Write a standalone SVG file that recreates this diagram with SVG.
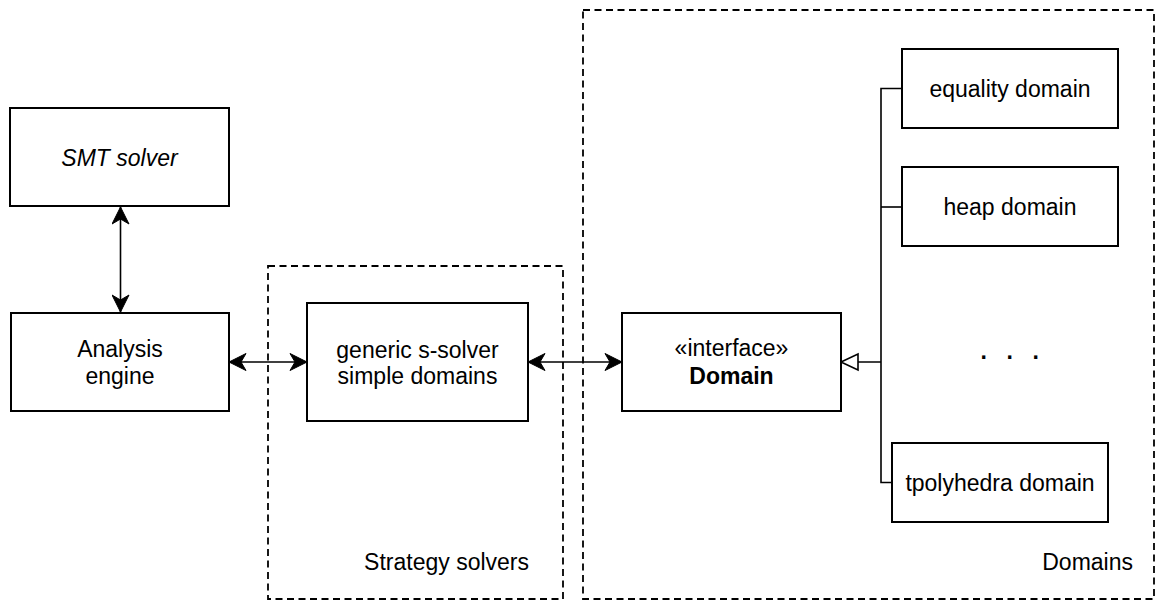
<svg xmlns="http://www.w3.org/2000/svg" width="1156" height="601" viewBox="0 0 1156 601">
  <style>
    .box { fill: #ffffff; stroke: #000000; stroke-width: 2; }
    .group { fill: none; stroke: #000000; stroke-width: 1.8; stroke-dasharray: 7 4.5; }
    .label { font-family: "Liberation Sans", Arial, Helvetica, sans-serif; font-size: 23px; fill: #000000; }
    .mid { text-anchor: middle; }
    .end { text-anchor: end; }
    .edge { fill: none; stroke: #000000; stroke-width: 1.6; }
  </style>
  <defs>
    <!-- filled, notched arrowhead; tip sits on the path end -->
    <marker id="arrow" viewBox="-18 -9 19 18" refX="0" refY="0" markerWidth="19" markerHeight="18" markerUnits="userSpaceOnUse" orient="auto-start-reverse">
      <path d="M0,0 L-17,-8.5 L-12,0 L-17,8.5 Z" fill="#000000" stroke="#000000" stroke-width="1"/>
    </marker>
    <!-- hollow triangle for generalisation -->
    <marker id="inherit" viewBox="-19 -10 21 20" refX="0" refY="0" markerWidth="21" markerHeight="20" markerUnits="userSpaceOnUse" orient="auto">
      <path d="M0,0 L-17,-8 L-17,8 Z" fill="#ffffff" stroke="#000000" stroke-width="1.6"/>
    </marker>
  </defs>

  <!-- container groups -->
  <g id="strategy-solvers">
    <rect class="group" x="268" y="266" width="295" height="333"/>
    <text class="label end" x="529" y="570">Strategy solvers</text>
  </g>
  <g id="domains">
    <rect class="group" x="583" y="10" width="571" height="589"/>
    <text class="label end" x="1133" y="570">Domains</text>
  </g>

  <!-- connectors -->
  <g id="connectors">
    <path class="edge" d="M120.5,207 L120.5,312" marker-start="url(#arrow)" marker-end="url(#arrow)"/>
    <path class="edge" d="M229,362 L307,362" marker-start="url(#arrow)" marker-end="url(#arrow)"/>
    <path class="edge" d="M528,362 L622,362" marker-start="url(#arrow)" marker-end="url(#arrow)"/>
    <path class="edge" d="M902,88.5 L881,88.5 L881,482.5 L892,482.5"/>
    <path class="edge" d="M881,207 L902,207"/>
    <path class="edge" d="M881,362 L841,362" marker-end="url(#inherit)"/>
  </g>

  <!-- nodes -->
  <g id="smt-solver">
    <rect class="box" x="10" y="108" width="219" height="98"/>
    <text class="label mid" x="119.5" y="165.5" font-style="italic">SMT solver</text>
  </g>
  <g id="analysis-engine">
    <rect class="box" x="11" y="313" width="218" height="98"/>
    <text class="label mid" x="120" y="357">Analysis</text>
    <text class="label mid" x="120" y="383.6">engine</text>
  </g>
  <g id="generic-s-solver">
    <rect class="box" x="307" y="303" width="221" height="118"/>
    <text class="label mid" x="417.5" y="357.5">generic s-solver</text>
    <text class="label mid" x="417.5" y="384">simple domains</text>
  </g>
  <g id="domain-interface">
    <rect class="box" x="622" y="313" width="219" height="98"/>
    <text class="label mid" x="731.5" y="356">«interface»</text>
    <text class="label mid" x="731.5" y="384" font-weight="bold">Domain</text>
  </g>
  <g id="equality-domain">
    <rect class="box" x="902" y="49" width="216" height="79"/>
    <text class="label mid" x="1010" y="96.8">equality domain</text>
  </g>
  <g id="heap-domain">
    <rect class="box" x="902" y="167" width="216" height="79"/>
    <text class="label mid" x="1010" y="215.3">heap domain</text>
  </g>
  <g id="more-domains">
    <text class="label" x="980.5 993.5 1006.5 1019.5 1032.5" y="359" font-size="26px" font-weight="bold">. . .</text>
  </g>
  <g id="tpolyhedra-domain">
    <rect class="box" x="892" y="443" width="216" height="79"/>
    <text class="label mid" x="1000" y="490.8">tpolyhedra domain</text>
  </g>
</svg>
